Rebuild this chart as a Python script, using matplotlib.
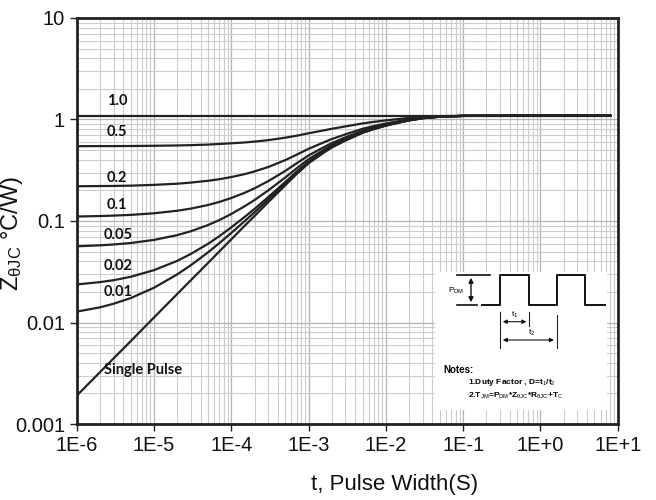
import numpy as np
import matplotlib.pyplot as plt
from matplotlib.ticker import FixedLocator, FixedFormatter, LogLocator, NullFormatter

plt.rcParams['font.family'] = ['Liberation Sans', 'DejaVu Sans']
plt.rcParams['mathtext.fontset'] = 'custom'
plt.rcParams['mathtext.rm'] = 'Liberation Sans'
plt.rcParams['mathtext.it'] = 'Liberation Sans:italic'
plt.rcParams['mathtext.bf'] = 'Liberation Sans:bold'

# pulse width (s) where the curves were read
t = [1e-6, 2e-6, 3e-6, 5e-6, 1e-5, 2e-5, 3e-5, 5e-5, 7e-5, 1e-4, 1.5e-4, 2e-4, 3e-4, 5e-4,
     7e-4, 1e-3, 1.5e-3, 2e-3, 3e-3, 5e-3, 7e-3, 1e-2, 1.5e-2, 2e-2, 3e-2, 5e-2, 1e-1, 1.0, 8.0]

# normalised transient thermal impedance, one list per duty factor
z_10 = [1.09] * 29
z_05 = [0.546, 0.547, 0.547, 0.548, 0.551, 0.555, 0.559, 0.566, 0.574, 0.583, 0.594, 0.606, 0.626, 0.662,
        0.692, 0.732, 0.776, 0.810, 0.855, 0.915, 0.948, 0.980, 1.013, 1.035, 1.060, 1.078, 1.088, 1.09, 1.09]
z_02 = [0.220, 0.221, 0.2215, 0.223, 0.227, 0.233, 0.239, 0.249, 0.258, 0.271, 0.290, 0.308, 0.340, 0.398,
        0.450, 0.514, 0.586, 0.642, 0.714, 0.810, 0.862, 0.914, 0.966, 1.002, 1.042, 1.070, 1.086, 1.09, 1.09]
z_01 = [0.1107, 0.1119, 0.113, 0.1149, 0.1191, 0.1262, 0.1325, 0.1437, 0.1541, 0.1684, 0.190, 0.2098, 0.2467, 0.3115,
        0.370, 0.442, 0.523, 0.586, 0.667, 0.775, 0.8335, 0.892, 0.9505, 0.991, 1.036, 1.0675, 1.0855, 1.09, 1.09]
z_005 = [0.0563, 0.0576, 0.0587, 0.0607, 0.0651, 0.0726, 0.0793, 0.0912, 0.1021, 0.1172, 0.1402, 0.1609, 0.1999, 0.2683,
         0.330, 0.406, 0.4915, 0.558, 0.6435, 0.7575, 0.819, 0.881, 0.9425, 0.9855, 1.033, 1.066, 1.0855, 1.09, 1.09]
z_002 = [0.0237, 0.0250, 0.0261, 0.0282, 0.0328, 0.0405, 0.0474, 0.0596, 0.0709, 0.0865, 0.1102, 0.1316, 0.1717, 0.2423,
         0.306, 0.3844, 0.4726, 0.5412, 0.6294, 0.747, 0.8107, 0.8744, 0.938, 0.9822, 1.031, 1.0655, 1.085, 1.09, 1.09]
z_001 = [0.0128, 0.0141, 0.0153, 0.0174, 0.0220, 0.0298, 0.0367, 0.0491, 0.0605, 0.0762, 0.1002, 0.1218, 0.1624, 0.2337,
         0.298, 0.3772, 0.4663, 0.5356, 0.6247, 0.7435, 0.8079, 0.8722, 0.9366, 0.9811, 1.0306, 1.0653, 1.0851, 1.09, 1.09]
z_single = [0.0019, 0.00324, 0.00443, 0.00655, 0.0112, 0.0191, 0.0261, 0.0386, 0.0501, 0.066, 0.0902, 0.112, 0.153, 0.225,
            0.290, 0.37, 0.46, 0.53, 0.62, 0.74, 0.805, 0.87, 0.935, 0.98, 1.03, 1.065, 1.085, 1.09, 1.09]

curves = [z_10, z_05, z_02, z_01, z_005, z_002, z_001, z_single]
labels = ['1.0', '0.5', '0.2', '0.1', '0.05', '0.02', '0.01', 'Single Pulse']
label_x = [3.3e-6, 3.3e-6, 3.3e-6, 3.3e-6, 3.45e-6, 3.45e-6, 3.45e-6, 7.2e-6]
label_y = [1.51, 0.746, 0.268, 0.145, 0.0735, 0.0357, 0.0202, 0.00341]

x_ticks = [1e-6, 1e-5, 1e-4, 1e-3, 1e-2, 1e-1, 1e0, 1e1]
x_ticklabels = ['1E-6', '1E-5', '1E-4', '1E-3', '1E-2', '1E-1', '1E+0', '1E+1']
y_ticks = [0.001, 0.01, 0.1, 1, 10]
y_ticklabels = ['0.001', '0.01', '0.1', '1', '10']

fig = plt.figure(figsize=(6.56, 5.0), dpi=100)
ax = fig.add_axes([76.7 / 656, 76 / 500, 541 / 656, 406 / 500])
ax.set_xscale('log')
ax.set_yscale('log')
ax.set_xlim(1e-6, 10)
ax.set_ylim(0.001, 10)

for z in curves:
    ax.plot(t, z, color='#222222', lw=1.6, zorder=3)

for txt, lx, ly in zip(labels, label_x, label_y):
    ax.text(lx, ly, txt, fontsize=10.5, fontweight='bold', family=['Lato', 'DejaVu Sans'],
            ha='center', va='center', color='#111111', zorder=4)

ax.xaxis.set_major_locator(FixedLocator(x_ticks))
ax.xaxis.set_major_formatter(FixedFormatter(x_ticklabels))
ax.yaxis.set_major_locator(FixedLocator(y_ticks))
ax.yaxis.set_major_formatter(FixedFormatter(y_ticklabels))
ax.xaxis.set_minor_locator(LogLocator(base=10, subs=np.arange(2, 10), numticks=20))
ax.yaxis.set_minor_locator(LogLocator(base=10, subs=np.arange(2, 10), numticks=20))
ax.xaxis.set_minor_formatter(NullFormatter())
ax.yaxis.set_minor_formatter(NullFormatter())

ax.grid(which='major', color='#b4b4b4', lw=0.9)
ax.grid(which='minor', color='#cccccc', lw=0.8)
ax.set_axisbelow(True)
ax.tick_params(which='major', direction='out', length=5, width=1, labelsize=14.5,
               colors='#222222', labelcolor='#111111')
ax.tick_params(which='minor', length=0)
for s in ax.spines.values():
    s.set_linewidth(2)
    s.set_color('#222222')

ax.set_xlabel('t, Pulse Width(S)', fontsize=16, color='#111111')
ax.xaxis.set_label_coords(0.588, -0.122)
ax.set_ylabel('Z$_{\\mathrm{\u03b8JC}}$ \u00b0C/W)', fontsize=17, color='#111111')
ax.yaxis.set_label_coords(-0.095, 0.47)

# inset sketch with the pulse definition, drawn in pixel coordinates
ins = fig.add_axes([435 / 656, 90 / 500, 172 / 656, 138 / 500], zorder=5)
ins.set_xlim(435, 607)
ins.set_ylim(410, 272)
ins.set_facecolor('white')
ins.set_xticks([])
ins.set_yticks([])
for s in ins.spines.values():
    s.set_visible(False)

ins.plot([482, 500, 500, 529, 529, 557, 557, 585, 585, 605],
         [305, 305, 275, 275, 305, 305, 275, 275, 305, 305], color='#111111', lw=1.4)
ins.plot([457, 490], [275, 275], color='#111111', lw=1.2)
ins.plot([457, 477], [305, 305], color='#111111', lw=1.2)
ins.annotate('', xy=(471, 275), xytext=(471, 305),
             arrowprops=dict(arrowstyle='<|-|>', color='#111111', lw=1.0, mutation_scale=7))
ins.text(448, 291, 'P$_{\\mathrm{DM}}$', fontsize=6, ha='left', va='center')

ins.plot([500, 500], [312, 348], color='#222222', lw=0.8)
ins.plot([529.3, 529.3], [312, 326], color='#222222', lw=0.8)
ins.plot([556.7, 556.7], [315, 348], color='#222222', lw=0.8)
ins.annotate('', xy=(500, 321.7), xytext=(529.3, 321.7),
             arrowprops=dict(arrowstyle='<|-|>', color='#111111', lw=0.8, mutation_scale=6))
ins.annotate('', xy=(500, 340), xytext=(556.7, 340),
             arrowprops=dict(arrowstyle='<|-|>', color='#111111', lw=0.8, mutation_scale=6))
ins.text(515, 320, 't$_1$', fontsize=6, ha='center', va='bottom')
ins.text(532, 338.5, 't$_2$', fontsize=6, ha='center', va='bottom')

ins.text(443, 370, 'Notes:', fontsize=7, fontweight='bold', ha='left', va='center')
ins.text(468, 382.7, '1.Duty Factor , D=t$_1$/t$_2$', fontsize=6, fontweight='bold',
         ha='left', va='center')
ins.text(468, 396, '2.T$_{\\mathrm{JM}}$=P$_{\\mathrm{DM}}$*Z$_{\\mathrm{\u03b8JC}}$*R$_{\\mathrm{\u03b8JC}}$+T$_{\\mathrm{C}}$',
         fontsize=6, fontweight='bold', ha='left', va='center')

fig.savefig('out.png', dpi=100)
